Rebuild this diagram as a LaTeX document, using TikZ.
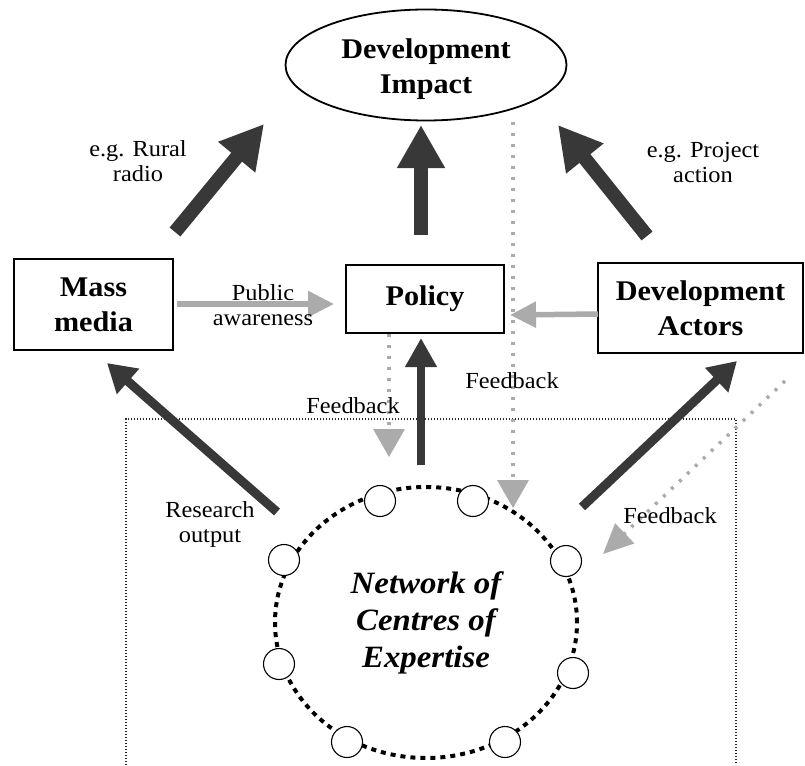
\documentclass[tikz,border=0pt]{standalone}
\usepackage{fontspec}
\setmainfont[FakeStretch=1.06]{Liberation Serif}
\usetikzlibrary{arrows.meta,shapes.geometric}
\definecolor{dkc}{HTML}{383838}
\definecolor{grc}{HTML}{ABABAB}
\newcommand\dmbf{\fontsize{28.5}{35}\selectfont\bfseries}
\newcommand\dmlbl{\fontsize{23}{25}\selectfont}
\newcommand\dmnet{\fontsize{31}{37}\selectfont\bfseries\itshape}
\begin{document}
\begin{tikzpicture}[x=1pt,y=-1pt,
  dk/.style={draw=dkc, line width=14pt, -{Triangle[length=43pt,width=45pt]}},
  md/.style={draw=dkc, line width=9pt, -{Triangle[length=28pt,width=32pt]}},
  gs/.style={draw=grc, line width=5.5pt, -{Triangle[length=26pt,width=25pt]}},
  gd/.style={draw=grc, line width=3.5pt, dash pattern=on 3pt off 8pt, -{Triangle[length=28pt,width=31pt]}},
  box/.style={draw, line width=1.6pt, rectangle, inner sep=0pt, align=center, font=\dmbf},
  lab/.style={align=center, font=\dmlbl, inner sep=0pt},
  hub/.style={circle, draw, line width=1.1pt, fill=white, minimum size=31pt, inner sep=0pt},
  frame/.style={draw=black!85, line width=1.3pt, dash pattern=on 1.3pt off 1.7pt}
]
\useasboundingbox (0,0) rectangle (805,765);
\fill[white] (0,0) rectangle (805,765);

% dotted frame
\draw[frame] (126,765) -- (126,419) -- (736,419) -- (736,765);

% main nodes
\node[ellipse, draw, line width=1.8pt, minimum width=281pt, minimum height=111pt, inner sep=0pt, align=center, font=\dmbf] (impact) at (426,65) {\rule{0pt}{27.5pt}Development\\Impact};
\node[box, minimum width=159pt, minimum height=91pt] (mass) at (93.5,304.5) {Mass\\media};
\node[box, minimum width=158pt, minimum height=68pt] (policy) at (425,299) {Policy};
\node[box, minimum width=205pt, minimum height=90pt] (actors) at (700.5,308) {Development\\Actors};
\node[ellipse, draw, line width=4pt, dash pattern=on 5pt off 5pt, minimum width=302pt, minimum height=271pt, inner sep=0pt, align=center, font=\dmnet] (ring) at (426,622.5) {Network of\\Centres of\\Expertise};

% hubs on the ring
\node[hub] (h1) at (380,501) {};
\node[hub] (h2) at (473,501) {};
\node[hub] (h3) at (566,561) {};
\node[hub] (h4) at (284,560) {};
\node[hub] (h5) at (279,664) {};
\node[hub] (h6) at (573,673) {};
\node[hub] (h7) at (347,742) {};
\node[hub] (h8) at (505,742) {};

% connector end points
\coordinate (mi1) at (175,232);  \coordinate (mi2) at (264,124);
\coordinate (pi1) at (421,235);  \coordinate (pi2) at (421,125);
\coordinate (ai1) at (647,236);  \coordinate (ai2) at (558,125);
\coordinate (rm1) at (277,512);  \coordinate (rm2) at (107,363);
\coordinate (rp1) at (421,465);  \coordinate (rp2) at (421,338);
\coordinate (ra1) at (582,507);  \coordinate (ra2) at (737,361);
\coordinate (mp1) at (177,304);  \coordinate (mp2) at (334,304);
\coordinate (ap1) at (598,314);  \coordinate (ap2) at (510,315);
\coordinate (ir1) at (513,122);  \coordinate (ir2) at (513,508);
\coordinate (pr1) at (389,334);  \coordinate (pr2) at (389,457);
\coordinate (ar1) at (785,381);  \coordinate (ar2) at (603,554);

% thick dark arrows
\draw[dk] (mi1) -- (mi2);
\draw[dk] (pi1) -- (pi2);
\draw[dk] (ai1) -- (ai2);
\draw[md] (rm1) -- (rm2);
\draw[md, line width=8pt, -{Triangle[length=29pt,width=30pt]}] (rp1) -- (rp2);
\draw[md] (ra1) -- (ra2);

% grey arrows
\draw[gs] (mp1) -- (mp2);
\draw[gs] (ap1) -- (ap2);
\draw[gd] (ir1) -- (ir2);
\draw[gd] (pr1) -- (pr2);
\draw[gd, -{Triangle[length=30pt,width=27pt]}] (ar1) -- (ar2);

% labels
\node[lab] (lrural) at (138,160.7) {e.g. Rural\\radio};
\node[lab] (lproj) at (703,162.6) {e.g. Project\\action};
\node[lab] (lpub) at (263,304.7) {Public\\awareness};
\node[lab] (lres) at (210,524.2) {Research\\output};
\node[lab] (lfb1) at (512,380.2) {Feedback};
\node[lab] (lfb2) at (353,405.2) {Feedback};
\node[lab] (lfb3) at (670,515.2) {Feedback};
\end{tikzpicture}
\end{document}
